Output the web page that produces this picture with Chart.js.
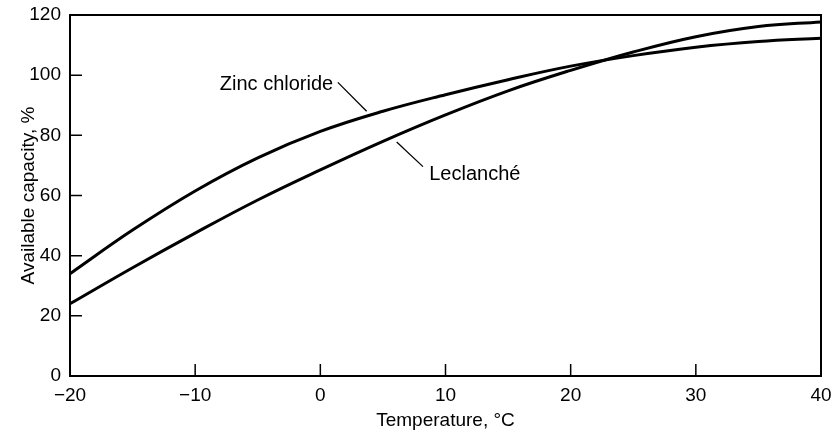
<!DOCTYPE html>
<html>
<head>
<meta charset="utf-8">
<script src="https://cdn.jsdelivr.net/npm/chart.js@4/dist/chart.umd.min.js"></script>
<style>
  html, body { margin: 0; padding: 0; background: #fff; }
  #wrap { width: 839px; height: 432px; }
</style>
</head>
<body>
<div id="wrap"><canvas id="cap" width="839" height="432"></canvas></div>
<script>
const temps = [-20, -15, -10, -5, 0, 5, 10, 15, 20, 25, 30, 35, 40]
const zincChloride = [34, 48.5, 61.5, 72.5, 81.3, 88, 93.5, 98.5, 103, 106.5, 109.3, 111.2, 112.3]
const leclanche = [24, 36, 47.5, 58.5, 68.5, 78, 86.8, 94.8, 101.6, 107.7, 112.8, 116.2, 117.7]
const xTicks = [-20, -10, 0, 10, 20, 30, 40]
const yTicks = [0, 20, 40, 60, 80, 100, 120]

// curve labels, placed in data units
const labels = [
  { text: 'Zinc chloride', align: 'center', x: -3.5, y: 97, from: [1.4, 97.6], to: [3.7, 88] },
  { text: 'Leclanché', align: 'left', x: 8.7, y: 67, from: [6.1, 77.8], to: [8.2, 69.6] }
]

const FONT = '"Liberation Sans", Arial, sans-serif'

const toPoints = ys => temps.map((t, i) => ({ x: t, y: ys[i] }))

const insideTicks = {
  id: 'insideTicks',
  afterDraw(chart) {
    const { ctx, scales: { x, y }, chartArea: a } = chart
    ctx.save()
    ctx.strokeStyle = '#000'
    ctx.lineWidth = 1.5
    ctx.beginPath()
    xTicks.slice(1, -1).forEach(v => {
      const px = x.getPixelForValue(v)
      ctx.moveTo(px, a.bottom)
      ctx.lineTo(px, a.bottom - 12)
    })
    yTicks.slice(1, -1).forEach(v => {
      const py = y.getPixelForValue(v)
      ctx.moveTo(a.left, py)
      ctx.lineTo(a.left + 12, py)
    })
    ctx.stroke()

    // frame
    ctx.lineWidth = 2
    ctx.strokeRect(a.left, a.top, a.right - a.left, a.bottom - a.top)

    // curve labels
    ctx.fillStyle = '#000'
    ctx.font = '20px ' + FONT
    ctx.textBaseline = 'middle'
    ctx.lineWidth = 1.3
    labels.forEach(l => {
      ctx.textAlign = l.align
      ctx.fillText(l.text, x.getPixelForValue(l.x), y.getPixelForValue(l.y))
      ctx.beginPath()
      ctx.moveTo(x.getPixelForValue(l.from[0]), y.getPixelForValue(l.from[1]))
      ctx.lineTo(x.getPixelForValue(l.to[0]), y.getPixelForValue(l.to[1]))
      ctx.stroke()
    })
    ctx.restore()
  }
}

const fmt = v => (v < 0 ? '\u2212' + Math.abs(v) : String(v))

new Chart(document.getElementById('cap'), {
  type: 'line',
  data: {
    datasets: [
      { label: 'Zinc chloride', data: toPoints(zincChloride) },
      { label: 'Leclanché', data: toPoints(leclanche) }
    ]
  },
  options: {
    responsive: false,
    animation: false,
    layout: { padding: { top: 15, right: 18, left: 0, bottom: 0 } },
    elements: {
      line: { borderColor: '#000', borderWidth: 3, tension: 0.4, fill: false },
      point: { radius: 0 }
    },
    plugins: { legend: { display: false }, tooltip: { enabled: false } },
    scales: {
      x: {
        type: 'linear',
        min: -20,
        max: 40,
        afterBuildTicks: s => { s.ticks = xTicks.map(v => ({ value: v })) },
        afterFit: s => { s.height = 56; s.paddingLeft = 0; s.paddingRight = 0 },
        grid: { display: false, drawTicks: false },
        border: { display: false },
        ticks: {
          color: '#000',
          font: { family: FONT, size: 19 },
          padding: 8,
          maxRotation: 0,
          callback: v => fmt(v)
        },
        title: {
          display: true,
          text: 'Temperature, °C',
          color: '#000',
          font: { family: FONT, size: 19 },
          padding: { top: 7, bottom: 0 }
        }
      },
      y: {
        min: 0,
        max: 120,
        afterBuildTicks: s => { s.ticks = yTicks.map(v => ({ value: v })) },
        afterFit: s => { s.width = 70; s.paddingTop = 0; s.paddingBottom = 0 },
        grid: { display: false, drawTicks: false },
        border: { display: false },
        ticks: {
          color: '#000',
          font: { family: FONT, size: 19 },
          padding: 9,
          callback: v => fmt(v)
        },
        title: {
          display: true,
          text: 'Available capacity, %',
          color: '#000',
          font: { family: FONT, size: 19 },
          padding: { top: 17, bottom: 0 }
        }
      }
    }
  },
  plugins: [insideTicks]
})
</script>
</body>
</html>
